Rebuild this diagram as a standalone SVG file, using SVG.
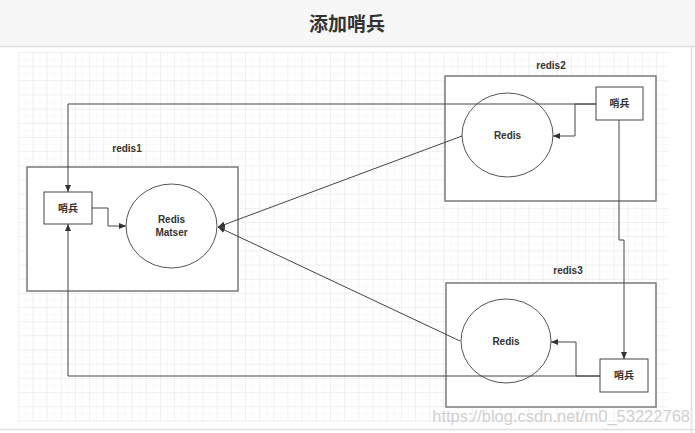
<svg xmlns="http://www.w3.org/2000/svg" width="695" height="433" viewBox="0 0 695 433">
<defs>
<pattern id="gMinor" x="18.3" y="52" width="7.085" height="7.085" patternUnits="userSpaceOnUse">
<path d="M0 0H7.085M0 0V7.085" fill="none" stroke="#f4f4f4" stroke-width="1"/>
</pattern>
<pattern id="gMajor" x="18.3" y="52" width="14.17" height="14.17" patternUnits="userSpaceOnUse">
<path d="M0 0H14.17M0 0V14.17" fill="none" stroke="#e8e8e8" stroke-width="1"/>
</pattern>
<marker id="arr" markerWidth="8" markerHeight="8" refX="7" refY="4" orient="auto" markerUnits="userSpaceOnUse">
<path d="M0 1L7 4L0 7Z" fill="#333"/>
</marker>
</defs>
<style>
.box{fill:#fff;stroke:#7a7a7a;stroke-width:1.5}
.ell{fill:#fff;stroke:#555;stroke-width:1}
.sb{fill:#fff;stroke:#444;stroke-width:1}
.con{fill:none;stroke:#444;stroke-width:1}
.t{font-family:"Liberation Sans","Noto Sans CJK SC",sans-serif;font-size:10px;font-weight:bold;fill:#333;text-anchor:middle}
</style>
<rect width="695" height="433" fill="#fff"/>
<rect x="0" y="0" width="695" height="46" fill="#f7f7f7"/>
<line x1="0" y1="46.5" x2="695" y2="46.5" stroke="#e0e0e0" stroke-width="1.5"/>
<text x="347" y="31" font-family="'Noto Sans CJK SC',sans-serif" font-size="19" font-weight="bold" fill="#333" text-anchor="middle">添加哨兵</text>
<rect x="18" y="52" width="650" height="370" fill="url(#gMinor)"/>
<rect x="18" y="52" width="650" height="370" fill="url(#gMajor)"/>
<line x1="691.5" y1="47" x2="691.5" y2="433" stroke="#e0e0e0" stroke-width="1.5"/>
<line x1="0" y1="429.5" x2="695" y2="429.5" stroke="#e0e0e0" stroke-width="1.5"/>

<g id="redis1">
<rect class="box" x="27" y="167" width="211" height="124"/>
<text class="t" x="127" y="152">redis1</text>
</g>
<g id="redis2">
<rect class="box" x="445" y="76" width="211" height="125"/>
<text class="t" x="551" y="69">redis2</text>
</g>
<g id="redis3">
<rect class="box" x="446" y="283" width="210" height="124"/>
<text class="t" x="568" y="274">redis3</text>
</g>

<g id="master">
<ellipse class="ell" cx="171.5" cy="226" rx="45.5" ry="42"/>
<text class="t" x="171.5" y="223">Redis</text>
<text class="t" x="171.5" y="236">Matser</text>
</g>
<g id="sentinel1">
<rect class="sb" x="44" y="192" width="48" height="32"/>
<text class="t" x="68" y="212">哨兵</text>
</g>
<g id="slave2">
<ellipse class="ell" cx="507.5" cy="135" rx="45.5" ry="42"/>
<text class="t" x="507.5" y="139">Redis</text>
</g>
<g id="sentinel2">
<rect class="sb" x="596" y="87" width="47" height="33"/>
<text class="t" x="619.5" y="107">哨兵</text>
</g>
<g id="slave3">
<ellipse class="ell" cx="506" cy="341" rx="45" ry="42"/>
<text class="t" x="506" y="345">Redis</text>
</g>
<g id="sentinel3">
<rect class="sb" x="600" y="359" width="48" height="33"/>
<text class="t" x="624" y="379">哨兵</text>
</g>

<g id="connectors">
<polyline class="con" points="596,104 68,104 68,192" marker-end="url(#arr)"/>
<polyline class="con" points="596,104 575,104 575,136 553,136" marker-end="url(#arr)"/>
<polyline class="con" points="92,208 108,208 108,226 126,226" marker-end="url(#arr)"/>
<polyline class="con" points="600,376 68,376 68,224" marker-end="url(#arr)"/>
<polyline class="con" points="600,376 576,376 576,342 551,342" marker-end="url(#arr)"/>
<polyline class="con" points="619,120 619,240 624,240 624,359" marker-end="url(#arr)"/>
<line class="con" x1="462" y1="136" x2="218" y2="227" marker-end="url(#arr)"/>
<line class="con" x1="460" y1="341" x2="218" y2="227" marker-end="url(#arr)"/>
</g>

<text x="690" y="422" font-family="'Liberation Sans',sans-serif" font-size="16.5" fill="#d0d0d0" text-anchor="end">https://blog.csdn.net/m0_53222768</text>
</svg>
